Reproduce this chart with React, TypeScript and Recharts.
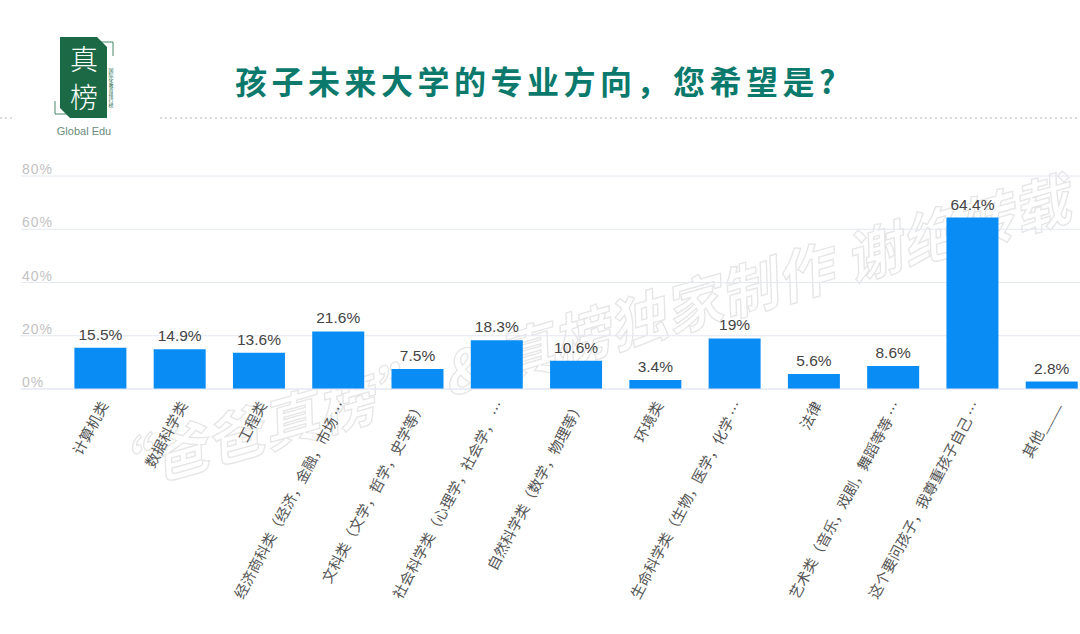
import React from "react"
import { BarChart, Bar, XAxis, YAxis, CartesianGrid, LabelList } from "recharts"

const majors = [
  "计算机类",
  "数据科学类",
  "工程类",
  "经济商科类（经济，金融，市场 …",
  "文科类（文学，哲学，史学等）",
  "社会科学类（心理学，社会学， …",
  "自然科学类（数学，物理等）",
  "环境类",
  "生命科学类（生物，医学，化学 …",
  "法律",
  "艺术类（音乐，戏剧，舞蹈等等 …",
  "这个要问孩子，我尊重孩子自己 …",
  "其他____",
]
const shares = [15.5, 14.9, 13.6, 21.6, 7.5, 18.3, 10.6, 3.4, 19, 5.6, 8.6, 64.4, 2.8]
const yTicks = [0, 20, 40, 60, 80]

const rows = majors.map((name, i) => ({ name, share: shares[i] }))

const cjk = '"Noto Sans CJK SC", "Noto Sans", sans-serif'
const latin = '"Liberation Sans", Arial, sans-serif'

const XTick = (props: any) => {
  const { x, payload } = props
  const ax = x + 3
  const ay = 402
  return (
    <text
      x={ax}
      y={ay}
      transform={`rotate(-62, ${ax}, ${ay})`}
      textAnchor="end"
      dominantBaseline="central"
      fontSize={14.5}
      fill="#555"
      fontFamily={cjk}
    >
      {payload.value}
    </text>
  )
}

const YTick = (props: any) => {
  const { y, payload } = props
  return (
    <text x={22} y={y - 2} fontSize={14} fill="#c2c2c2" fontFamily={latin} letterSpacing={1}>
      {payload.value}%
    </text>
  )
}

function Backdrop() {
  return (
    <svg width={1080} height={634} style={{ position: "absolute", left: 0, top: 0 }}>
      {/* watermark */}
      <text
        x={582}
        y={358}
        textAnchor="middle"
        fontSize={57}
        fontWeight={700}
        fontStyle="italic"
        fill="none"
        stroke="#e6e6e6"
        strokeWidth={1.3}
        fontFamily={cjk}
        letterSpacing={1}
        transform="rotate(-16, 582, 338)"
      >
        “爸爸真榜” &amp; 真榜独家制作 谢绝转载
      </text>

      {/* logo */}
      <polygon points="60,37 97,37 107,47 107,118 70,118 60,108" fill="#1b6a45" />
      <polyline points="100,42 113,42 113,56" fill="none" stroke="#1b6a45" strokeWidth={0.8} />
      <polyline points="55,101 55,114 67,114" fill="none" stroke="#1b6a45" strokeWidth={0.8} />
      <text x={84} y={70} textAnchor="middle" fontSize={28} fill="#fff" fontFamily={cjk} fontWeight={300}>
        真
      </text>
      <text x={84} y={108} textAnchor="middle" fontSize={28} fill="#fff" fontFamily={cjk} fontWeight={300}>
        榜
      </text>
      <text x={111} y={68} fontSize={5} fill="#1b6a45" fontFamily={cjk} style={{ writingMode: "vertical-rl" }}>
        国际化教育排行榜
      </text>
      <text x={84} y={135} textAnchor="middle" fontSize={11} fill="#6b8c7b" fontFamily={latin}>
        Global Edu
      </text>

      {/* title */}
      <text x={235} y={94} fontSize={32} fontWeight={700} fill="#0b7a6d" fontFamily={cjk} letterSpacing={4.5}>
        孩子未来大学的专业方向，您希望是?
      </text>
      <line x1={0} y1={118} x2={12} y2={118} stroke="#b3b3b3" strokeDasharray="2 3" />
      <line x1={160} y1={118} x2={1080} y2={118} stroke="#b3b3b3" strokeDasharray="2 3" />
    </svg>
  )
}

export default function App() {
  return (
    <div
      style={{
        position: "absolute",
        left: 0,
        top: 0,
        width: 1080,
        height: 634,
        overflow: "hidden",
        background: "#fff",
      }}
    >
      <Backdrop />
      <div style={{ position: "absolute", left: 0, top: 0 }}>
        <BarChart
          width={1091}
          height={634}
          data={rows}
          margin={{ top: 176, right: 0, bottom: 5, left: 0 }}
        >
          <CartesianGrid vertical={false} stroke="#e3e8f1" />
          <XAxis
            dataKey="name"
            interval={0}
            height={240}
            padding={{ left: 39.4, right: 0 }}
            axisLine={{ stroke: "#e3e8f1" }}
            tickLine={false}
            tick={<XTick />}
          />
          <YAxis
            width={21}
            domain={[0, 80]}
            ticks={yTicks}
            axisLine={false}
            tickLine={false}
            tick={<YTick />}
          />
          <Bar dataKey="share" fill="#0a8cf5" barSize={52} isAnimationActive={false}>
            <LabelList
              dataKey="share"
              position="top"
              offset={8}
              formatter={(v: any) => `${v}%`}
              fill="#444"
              fontSize={15.5}
              fontFamily={latin}
            />
          </Bar>
        </BarChart>
      </div>
    </div>
  )
}
